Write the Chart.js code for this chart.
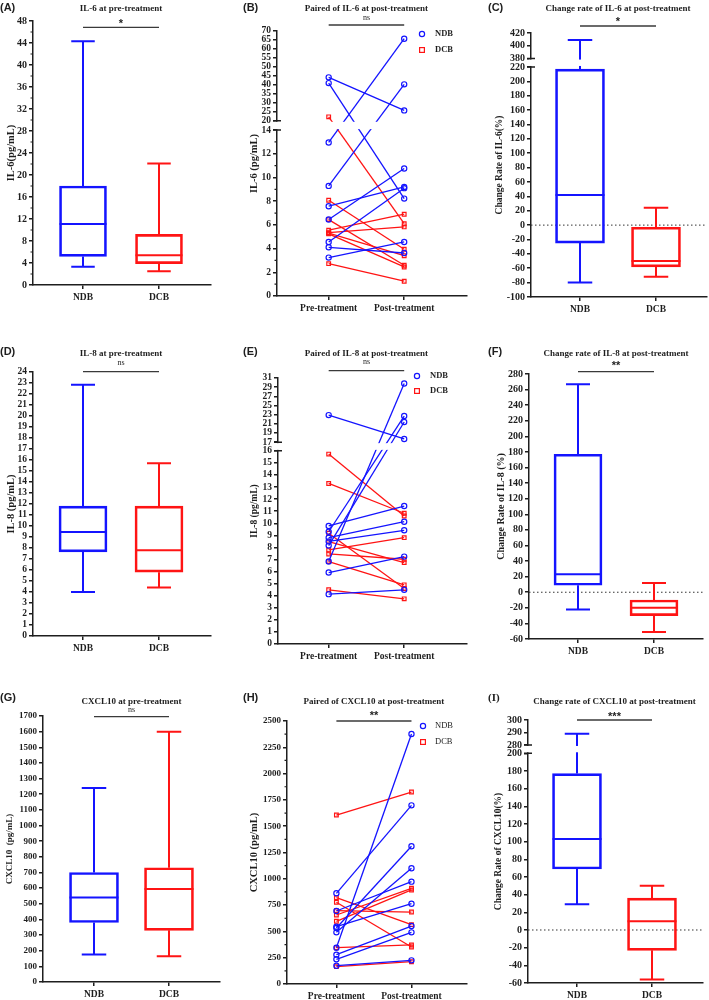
<!DOCTYPE html>
<html>
<head>
<meta charset="utf-8">
<script src="https://cdn.jsdelivr.net/npm/chart.js@4.4.1/dist/chart.umd.min.js"></script>
<style>
  body { margin: 0; background: #fff; }
  #wrap { position: relative; width: 709px; height: 1000px; }
  canvas { position: absolute; }
</style>
</head>
<body>
<div id="wrap"></div>
<script>
// Categories and text
const groups = ['NDB', 'DCB'];
const phases = ['Pre-treatment', 'Post-treatment'];
const titles = ['IL-6 at pre-treatment', 'Paired of IL-6 at post-treatment', 'Change rate of IL-6 at post-treatment',
                'IL-8 at pre-treatment', 'Paired of IL-8 at post-treatment', 'Change rate of IL-8 at post-treatment',
                'CXCL10 at pre-treatment', 'Paired of CXCL10 at post-treatment', 'Change rate of CXCL10 at post-treatment'];
const yTitles = ['IL-6(pg/mL)', 'IL-6 (pg/mL)', 'Change Rate of IL-6(%)',
                 'IL-8 (pg/mL)', 'IL-8 (pg/mL)', 'Change Rate of IL-8 (%)',
                 'CXCL10  (pg/mL)', 'CXCL10 (pg/mL)', 'Change Rate of CXCL10(%)'];
const sigLabels = ['*', 'ns', '*', 'ns', 'ns', '**', 'ns', '**', '***'];

// Box plots: [min, q1, median, q3, max]
const il6PreNdb = [3.3, 5.2, 11.1, 18.0, 44.3];
const il6PreDcb = [2.5, 3.9, 5.4, 9.2, 22.1];
const il6RateNdb = [-80, -25, 42, 217, 409];
const il6RateDcb = [-72, -58, -50, -3, 24];
const il8PreNdb = [4.0, 7.65, 9.45, 11.8, 22.85];
const il8PreDcb = [4.4, 5.8, 7.8, 11.8, 15.7];
const il8RateNdb = [-22, 9, 23, 177, 267];
const il8RateDcb = [-51, -30, -20, -10, 12];
const cxPreNdb = [175, 380, 540, 700, 1240];
const cxPreDcb = [165, 330, 595, 730, 1600];
const cxRateNdb = [29, 69, 103, 177, 289];
const cxRateDcb = [-56, -23, 10, 36, 50];

// Paired values: pre[i] -> post[i]
const il6NdbPre  = [44.2, 41.0, 12.96, 9.29, 7.58, 6.45, 4.56, 4.11, 3.24];
const il6NdbPost = [25.8, 8.22, 65.7, 40.3, 9.2, 10.76, 9.1, 3.63, 4.56];
const il6DcbPre  = [22.2, 8.08, 6.45, 5.55, 5.35, 5.3, 5.25, 2.73];
const il6DcbPost = [6.1, 3.95, 2.6, 6.9, 5.83, 3.4, 2.45, 1.25];
const il8NdbPre  = [22.9, 9.78, 9.3, 8.81, 8.5, 8.15, 6.83, 5.92, 4.13];
const il8NdbPost = [17.7, 11.43, 22.7, 10.13, 9.42, 21.4, 29.8, 7.24, 4.49];
const il8DcbPre  = [15.73, 13.3, 9.17, 8.48, 7.79, 7.46, 6.83, 4.49];
const il8DcbPost = [10.6, 10.83, 4.6, 6.74, 8.81, 7.02, 4.9, 3.74];
const cxNdbPre  = [862, 694, 545, 532, 491, 345, 279, 235, 174];
const cxNdbPost = [1698, 973, 763, 1309, 1100, 2376, 551, 491, 225];
const cxDcbPre  = [1606, 820, 777, 697, 656, 596, 345, 165];
const cxDcbPost = [1825, 564, 352, 684, 910, 894, 371, 212];

// Y axis ranges: [from, to, step] per segment (two segments = broken axis)
const il6PreAxis = [[0, 48, 4]];
const il6PairAxis = [[0, 14, 2], [20, 70, 5]];
const il6RateAxis = [[-100, 220, 20], [380, 420, 20]];
const il8PreAxis = [[0, 24, 1]];
const il8PairAxis = [[0, 16, 1], [17, 31, 2]];
const il8RateAxis = [[-60, 280, 20]];
const cxPreAxis = [[0, 1700, 100]];
const cxPairAxis = [[0, 2500, 250]];
const cxRateAxis = [[-60, 200, 20], [280, 300, 10]];

const BLUE = '#1414ff';
const RED = '#ff1414';
const colors = [BLUE, RED];
const INK = '#1e1e1e';
const AXIS = '#1e1e1e';
const SERIF = '"Liberation Serif", "Times New Roman", serif';
const SANS = '"Liberation Sans", Arial, sans-serif';

Chart.defaults.font.family = SERIF;
Chart.defaults.font.weight = 'bold';
Chart.defaults.color = INK;

// Page grid
const cols = [[0, 236], [236, 236], [472, 237]];
const rows = [[0, 318], [318, 345], [663, 337]];

// Panel layout (page pixels): plot = [left, top, right, bottom], cats = x of the two categories
const panels = [
  { key: 'A', col: 0, row: 0, type: 'box', stats: [il6PreNdb, il6PreDcb], axis: il6PreAxis, minor: [2],
    plot: [33, 21, 211, 285], cats: [83, 159], boxW: 47, ty: [9, 21, 27.3], yTitleX: 11, yTitleSize: 10.5, tickSize: 10, letterX: 0 },
  { key: 'B', col: 1, row: 0, type: 'pair', ndb: [il6NdbPre, il6NdbPost], dcb: [il6DcbPre, il6DcbPost],
    axis: il6PairAxis, weights: [165.7, 89.7], gap: 9.3, minor: [1, 0], tickSize: 9.5,
    plot: [277, 31, 468, 296], cats: [329, 405], ty: [9, 17.7, 25], yTitleX: 18, yTitleSize: 10.5, letterX: 243,
    legend: [422, 34, 50, 435, 'bold'] },
  { key: 'C', col: 2, row: 0, type: 'box', stats: [il6RateNdb, il6RateDcb], axis: il6RateAxis,
    weights: [230.3, 25.6], gap: 8.4, zero: true, tickSize: 10,
    plot: [531, 33, 707, 297], cats: [580, 656], boxW: 49, ty: [9, 19.3, 26], yTitleX: 28, yTitleSize: 9.5, letterX: 488 },
  { key: 'D', col: 0, row: 1, type: 'box', stats: [il8PreNdb, il8PreDcb], axis: il8PreAxis, tickSize: 9.5,
    plot: [33, 372, 211, 636], cats: [83, 159], boxW: 48, ty: [354, 363.3, 371.7], yTitleX: 11, yTitleSize: 10.5, letterX: 0 },
  { key: 'E', col: 1, row: 1, type: 'pair', ndb: [il8NdbPre, il8NdbPost], dcb: [il8DcbPre, il8DcbPost],
    axis: il8PairAxis, weights: [193.6, 64.3], gap: 8.7, tickSize: 9.5,
    plot: [278, 378, 468, 644], cats: [329, 405], ty: [354, 362, 370.7], yTitleX: 19, yTitleSize: 9.5, letterX: 243,
    legend: [417, 376, 391, 430, 'bold'] },
  { key: 'F', col: 2, row: 1, type: 'box', stats: [il8RateNdb, il8RateDcb], axis: il8RateAxis, zero: true, tickSize: 10,
    plot: [529, 374, 703, 639], cats: [578, 654], boxW: 48, ty: [354, 363.3, 371.7], yTitleX: 29, yTitleSize: 10, letterX: 488 },
  { key: 'G', col: 0, row: 2, type: 'box', stats: [cxPreNdb, cxPreDcb], axis: cxPreAxis, tickSize: 9,
    plot: [43, 716, 220, 982], cats: [94, 169], boxW: 49, ty: [701.7, 710, 716.7], yTitleX: 10, yTitleSize: 9, letterX: 0 },
  { key: 'H', col: 1, row: 2, type: 'pair', ndb: [cxNdbPre, cxNdbPost], dcb: [cxDcbPre, cxDcbPost],
    axis: cxPairAxis, minor: [125], tickSize: 9,
    plot: [287, 721, 469, 984], cats: [337, 413], ty: [701.7, 713, 721], yTitleX: 18, yTitleSize: 10.5, letterX: 243,
    legend: [423, 726, 742, 435, 'normal'] },
  { key: 'I', col: 2, row: 2, type: 'box', stats: [cxRateNdb, cxRateDcb], axis: cxRateAxis,
    weights: [230, 25], gap: 8.3, zero: true, tickSize: 10,
    plot: [528, 720, 703, 983], cats: [577, 652], boxW: 49, ty: [701.7, 714, 720], yTitleX: 27, yTitleSize: 9.5, letterX: 488 }
];

// Y scale made of one or more linear pieces (for the broken axes)
const axisInfo = {};
class SegmentScale extends Chart.LinearScale {
  info() { return axisInfo[this.chart.canvas.id]; }
  buildTicks() {
    const ticks = [];
    this.info().segs.forEach(([a, b, step]) => {
      for (let v = a; v <= b + 1e-9; v += step) ticks.push({ value: Math.round(v * 1000) / 1000 });
    });
    return ticks;
  }
  pieces() {
    const { segs, weights, gap } = this.info();
    const sum = weights.reduce((s, w) => s + w, 0);
    const avail = this.bottom - this.top - gap * (segs.length - 1);
    let y = this.bottom;
    return segs.map(([a, b], i) => {
      const h = avail * weights[i] / sum;
      const piece = { a, b, y0: y, y1: y - h };
      y -= h + gap;
      return piece;
    });
  }
  getPixelForValue(v) {
    const ps = this.pieces();
    for (let i = 0; i < ps.length; i++) {
      const p = ps[i];
      if (i > 0 && v < p.a) {
        const q = ps[i - 1];
        return q.y1 + (p.y0 - q.y1) * (v - q.b) / (p.a - q.b);
      }
      if (v <= p.b || i === ps.length - 1) return p.y0 + (p.y1 - p.y0) * (v - p.a) / (p.b - p.a);
    }
  }
  getValueForPixel(px) {
    const ps = this.pieces();
    for (const p of ps) {
      if (px <= p.y0 && px >= p.y1) return p.a + (p.b - p.a) * (p.y0 - px) / (p.y0 - p.y1);
    }
    return px > ps[0].y0 ? ps[0].a : ps[ps.length - 1].b;
  }
}
SegmentScale.id = 'segment';
SegmentScale.defaults = Chart.LinearScale.defaults;
Chart.register(SegmentScale);

function line(ctx, x1, y1, x2, y2) {
  ctx.moveTo(x1, y1);
  ctx.lineTo(x2, y2);
}

function text(ctx, s, x, y, font, align) {
  ctx.font = font;
  ctx.fillStyle = INK;
  ctx.textAlign = align || 'center';
  ctx.textBaseline = 'middle';
  ctx.fillText(s, x, y);
}

// Whiskers, breaks, titles, legend etc. drawn on top of each panel
function decorPlugin(p, idx, ox, oy) {
  return {
    id: 'decor' + p.key,
    beforeDatasetsDraw(chart) {
      if (!p.zero) return;
      const { ctx, chartArea: a } = chart;
      const y = chart.scales.y.getPixelForValue(0);
      ctx.save();
      ctx.strokeStyle = '#333';
      ctx.lineWidth = 1;
      ctx.setLineDash([1.5, 2.5]);
      ctx.beginPath();
      line(ctx, a.left, y, a.right, y);
      ctx.stroke();
      ctx.restore();
    },
    afterDatasetsDraw(chart) {
      const { ctx, chartArea: a } = chart;
      const ys = chart.scales.y;
      const py = v => ys.getPixelForValue(v);
      ctx.save();

      if (p.type === 'box') {
        const meta = chart.getDatasetMeta(0);
        p.stats.forEach((s, i) => {
          const bar = meta.data[i];
          const x = bar.x, hw = bar.width / 2;
          ctx.strokeStyle = colors[i];
          ctx.lineWidth = 2;
          ctx.beginPath();
          line(ctx, x, py(s[3]), x, py(s[4]));
          line(ctx, x, py(s[1]), x, py(s[0]));
          line(ctx, x - hw / 2, py(s[4]), x + hw / 2, py(s[4]));
          line(ctx, x - hw / 2, py(s[0]), x + hw / 2, py(s[0]));
          line(ctx, x - hw, py(s[2]), x + hw, py(s[2]));
          ctx.stroke();
        });
      }

      // broken axis gaps
      for (let i = 1; i < p.axis.length; i++) {
        const y0 = py(p.axis[i - 1][1]);
        const y1 = py(p.axis[i][0]);
        ctx.fillStyle = '#fff';
        ctx.fillRect(a.left - 2, y1 + 1, a.right - a.left + 4, y0 - y1 - 2);
        ctx.strokeStyle = AXIS;
        ctx.lineWidth = 1.5;
        ctx.beginPath();
        line(ctx, a.left - 4, y0, a.left + 4, y0);
        line(ctx, a.left - 4, y1, a.left + 4, y1);
        ctx.stroke();
      }

      // minor ticks
      if (p.minor) {
        ctx.strokeStyle = AXIS;
        ctx.lineWidth = 1.2;
        ctx.beginPath();
        p.axis.forEach(([lo, hi, step], si) => {
          const m = p.minor[si];
          if (!m) return;
          for (let v = lo; v <= hi + 1e-9; v += m) {
            const k = (v - lo) / step;
            if (Math.abs(k - Math.round(k)) < 1e-6) continue;
            line(ctx, a.left - 2.5, py(v), a.left, py(v));
          }
        });
        ctx.stroke();
      }

      // legend
      if (p.legend) {
        const [lx, ly1, ly2, tx, weight] = p.legend;
        ctx.lineWidth = 1.2;
        ctx.strokeStyle = BLUE;
        ctx.beginPath();
        ctx.arc(lx - ox, ly1 - oy, 2.6, 0, Math.PI * 2);
        ctx.stroke();
        ctx.strokeStyle = RED;
        ctx.strokeRect(lx - ox - 2.4, ly2 - oy - 2.4, 4.8, 4.8);
        text(ctx, groups[0], tx - ox, ly1 - oy, weight + ' 8.5px ' + SERIF, 'left');
        text(ctx, groups[1], tx - ox, ly2 - oy, weight + ' 8.5px ' + SERIF, 'left');
      }

      // panel letter, title, significance bracket
      const xs = chart.scales.x;
      const c0 = xs.getPixelForValue(0), c1 = xs.getPixelForValue(1);
      const mid = (c0 + c1) / 2;
      const [tY, sY, bY] = p.ty;
      const letterFont = p.key === 'I' ? 'bold 11px ' + SERIF : 'bold 11px ' + SANS;
      text(ctx, '(' + p.key + ')', p.letterX - ox, (p.row === 0 ? 8 : p.row === 1 ? 352 : 698) - oy, letterFont, 'left');
      text(ctx, titles[idx], mid, tY - oy, 'bold 9px ' + SERIF);
      const sig = sigLabels[idx];
      if (sig === 'ns') text(ctx, sig, mid, sY - oy, '8px ' + SERIF);
      else text(ctx, sig, mid, sY - oy + 3, 'bold 11px ' + SANS);
      ctx.strokeStyle = '#3a3a3a';
      ctx.lineWidth = 1.3;
      ctx.beginPath();
      line(ctx, c0, bY - oy, c1, bY - oy);
      ctx.stroke();

      ctx.restore();
    }
  };
}

function pairSets(pre, post, color, style) {
  return pre.map((v, i) => ({
    data: [{ x: 0, y: v }, { x: 1, y: post[i] }],
    borderColor: color,
    borderWidth: 1.3,
    pointStyle: style,
    pointRadius: 2.6,
    pointBorderWidth: 1.2,
    pointBorderColor: color,
    pointBackgroundColor: 'rgba(255,255,255,0)'
  }));
}

const wrap = document.getElementById('wrap');

panels.forEach((p, idx) => {
  const [L, Wd] = cols[p.col];
  const [T, Ht] = rows[p.row];
  const cv = document.createElement('canvas');
  cv.id = 'panel' + p.key;
  cv.width = Wd;
  cv.height = Ht;
  cv.style.left = L + 'px';
  cv.style.top = T + 'px';
  wrap.appendChild(cv);
  axisInfo[cv.id] = { segs: p.axis, weights: p.weights || [1], gap: p.gap || 0 };

  const [pl, pt, pr, pb] = p.plot;
  const ppu = p.cats[1] - p.cats[0];
  const xMin = -(p.cats[0] - pl) / ppu;
  const xMax = 1 + (pr - p.cats[1]) / ppu;
  const labels = p.type === 'box' ? groups : phases;

  let type, datasets;
  if (p.type === 'box') {
    type = 'bar';
    datasets = [{
      data: p.stats.map((s, i) => ({ x: i, y: [s[1], s[3]] })),
      backgroundColor: 'rgba(0,0,0,0)',
      borderColor: colors,
      borderWidth: 2,
      borderSkipped: false,
      barThickness: p.boxW
    }];
  } else {
    type = 'line';
    datasets = pairSets(p.ndb[0], p.ndb[1], BLUE, 'circle').concat(pairSets(p.dcb[0], p.dcb[1], RED, 'rect'));
  }

  new Chart(cv, {
    type: type,
    data: { datasets: datasets },
    options: {
      responsive: false,
      animation: false,
      events: [],
      layout: { padding: { top: pt - T, right: L + Wd - pr, left: 0, bottom: 0 } },
      plugins: { legend: { display: false }, tooltip: { enabled: false } },
      scales: {
        x: {
          type: 'linear',
          min: xMin,
          max: xMax,
          offset: false,
          afterBuildTicks: s => { s.ticks = [{ value: 0 }, { value: 1 }]; },
          afterFit: s => { s.height = T + Ht - pb; },
          ticks: { callback: v => labels[v], font: { size: 9.5, weight: 'bold' }, color: INK, padding: 3, maxRotation: 0, autoSkip: false },
          grid: { offset: false, drawOnChartArea: false, tickLength: 4, color: AXIS, lineWidth: 1.5 },
          border: { color: AXIS, width: 1.5 }
        },
        y: {
          type: 'segment',
          min: p.axis[0][0],
          max: p.axis[p.axis.length - 1][1],
          afterFit: s => { s.width = pl - L; },
          ticks: { callback: v => String(v), autoSkip: false, font: { size: p.tickSize || 9, weight: 'bold' }, color: INK, padding: 2 },
          grid: { drawOnChartArea: false, tickLength: 4, color: AXIS, lineWidth: 1.5 },
          border: { color: AXIS, width: 1.5 },
          title: { display: true, text: yTitles[idx], font: { size: p.yTitleSize, weight: 'bold' }, color: INK,
                   padding: { top: p.yTitleX - p.yTitleSize * 0.6, bottom: 0 } }
        }
      }
    },
    plugins: [decorPlugin(p, idx, L, T)]
  });
});
</script>
</body>
</html>
